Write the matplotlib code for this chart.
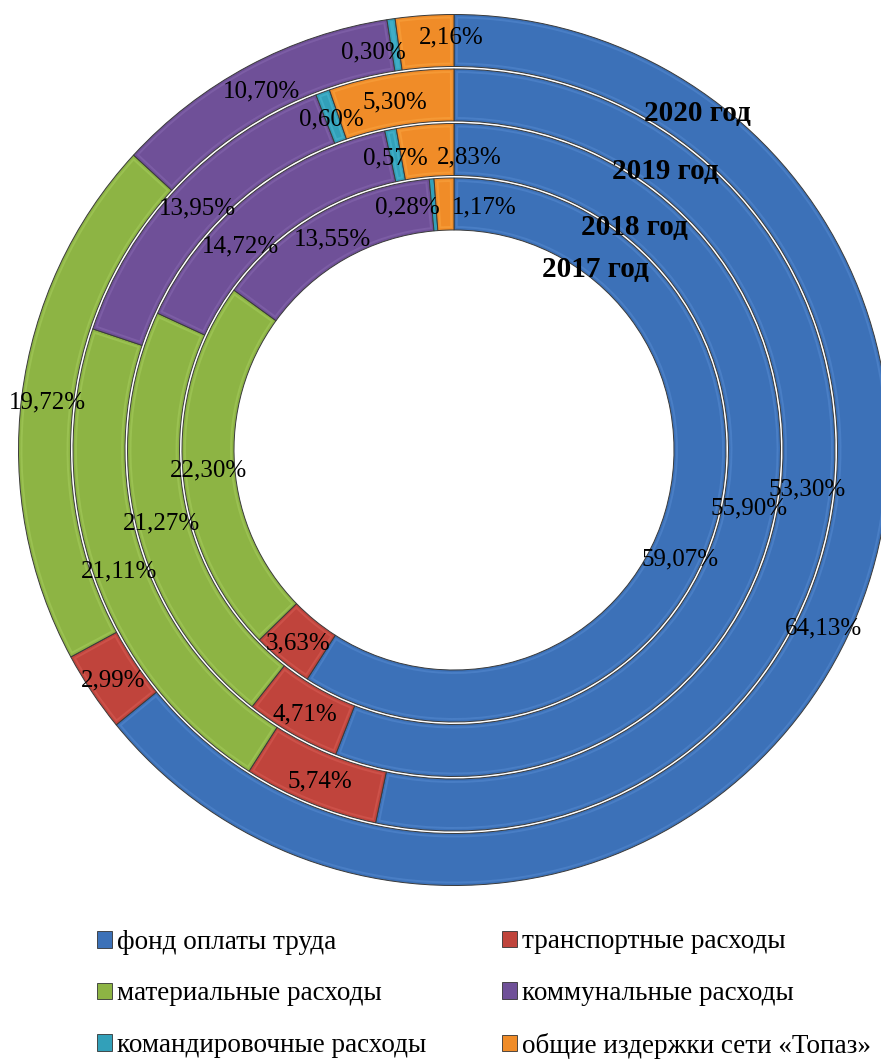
import matplotlib
matplotlib.use("Agg")
import matplotlib.pyplot as plt
import numpy as np
from matplotlib.patches import Patch, Wedge
import matplotlib.colors as mcolors

plt.rcParams['font.family'] = ['Liberation Serif', 'DejaVu Serif']

# ---- data ----
categories = ["фонд оплаты труда", "транспортные расходы", "материальные расходы",
              "коммунальные расходы", "командировочные расходы", "общие издержки сети «Топаз»"]
years = ["2017 год", "2018 год", "2019 год", "2020 год"]
v2017 = [59.07, 3.63, 22.30, 13.55, 0.28, 1.17]
v2018 = [55.90, 4.71, 21.27, 14.72, 0.57, 2.83]
v2019 = [53.30, 5.74, 21.11, 13.95, 0.60, 5.30]
v2020 = [64.13, 2.99, 19.72, 10.70, 0.30, 2.16]
series = [v2017, v2018, v2019, v2020]

# ---- style ----
colors = ["#3C71B8", "#C0443C", "#8DB444", "#6F5098", "#32A0B9", "#F08C28"]
W, H = 881, 1061
CX, CY = 454, H - 450
outer_radii = [272, 326.5, 381, 435.5]
ring_w = 52
# pixel nudges (dx right, dy down) for crowded labels: (ring index, category index)
nudges = {(0, 5): (39, 0), (0, 4): (-26, 0), (0, 0): (-10, 37), (1, 5): (42, 4),
          (1, 3): (-25, 28), (3, 5): (25, -7), (3, 4): (-21, 5)}
label_dy = 3
year_pos = [(595, 270), (634, 228), (665, 172), (697, 113)]

fig = plt.figure(figsize=(W / 100, H / 100), dpi=100)
ax = fig.add_axes([0, 0, 1, 1])

for i, (vals, R) in enumerate(zip(series, outer_radii)):
    wedges, _ = ax.pie(vals, radius=R, center=(CX, CY), startangle=90, counterclock=False,
                       colors=colors,
                       wedgeprops=dict(width=ring_w, edgecolor="#3a3a3a", linewidth=0.7))
    rmid = R - ring_w / 2
    for j, w in enumerate(wedges):
        # subtle bevel-like highlight inside each segment
        inset = 3.0
        dth = np.degrees(inset / rmid)
        if w.theta2 - w.theta1 > 2.5 * dth:
            light = mcolors.to_rgb(colors[j])
            light = tuple(min(1, c + 0.15) for c in light)
            ax.add_patch(Wedge((CX, CY), R - inset, w.theta1 + dth, w.theta2 - dth,
                               width=ring_w - 2 * inset, fill=False, edgecolor=light,
                               linewidth=1.4, alpha=0.35))
        a = np.deg2rad((w.theta1 + w.theta2) / 2)
        x = CX + rmid * np.cos(a)
        y = CY + rmid * np.sin(a)
        dx, dy = nudges.get((i, j), (0, 0))
        ax.text(x + dx, y - dy - label_dy, f"{vals[j]:.2f}%".replace(".", ","),
                ha="center", va="center", fontsize=18, color="black")

for (px, py), yl in zip(year_pos, years):
    ax.text(px, H - py, yl, ha="center", va="center", fontsize=21, fontweight="bold", color="black")

ax.set_xlim(0, W)
ax.set_ylim(0, H)
ax.set_aspect("equal")
ax.axis("off")

def legend_col(idx, xpix):
    handles = [Patch(facecolor=colors[k], edgecolor="#333333", linewidth=0.6) for k in idx]
    labels = [categories[k] for k in idx]
    leg = fig.legend(handles, labels, ncol=1, loc="center left",
                     bbox_to_anchor=(xpix / W, (H - 994) / H),
                     frameon=False, fontsize=19.5, handlelength=0.55, handleheight=0.55,
                     handletextpad=0.2, labelspacing=0.98, borderpad=0, borderaxespad=0)
    return leg

legend_col([0, 2, 4], 97)
legend_col([1, 3, 5], 502)

fig.savefig("out.png", dpi=100)
